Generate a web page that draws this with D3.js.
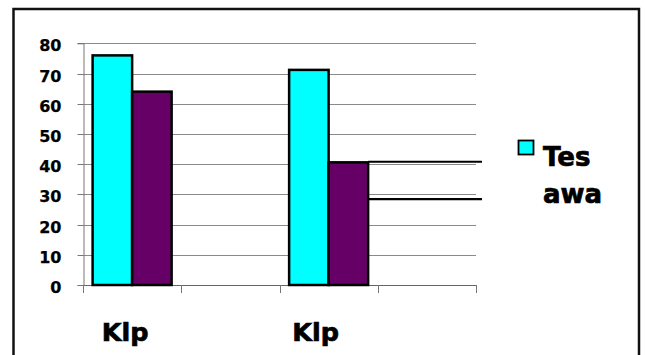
<!DOCTYPE html>
<html><head><meta charset="utf-8">
<script src="https://cdn.jsdelivr.net/npm/d3@7"></script>
<style>html,body{margin:0;padding:0;background:#fff;}svg{display:block;}</style>
</head><body>
<script>
// ---- data ----
const categories = ["Klp", "", "Klp", ""];
const seriesNames = ["Tes awa", ""];
const series1 = [76, null, 71.2, null];
const series2 = [64, null, 40.6, null];
const yTicks = [0, 10, 20, 30, 40, 50, 60, 70, 80];
const extraLineValues = [40.8, 28.4];

// ---- layout ----
const W = 645, H = 355;
const font = "'DejaVu Sans', Verdana, sans-serif";
const svg = d3.select("body").append("svg").attr("width", W).attr("height", H);

svg.append("rect").attr("x", 0).attr("y", 0).attr("width", W).attr("height", H).attr("fill", "#fff");
// outer frame
svg.append("rect").attr("x", 13.5).attr("y", 9).attr("width", 625.5).attr("height", 360)
  .attr("fill", "none").attr("stroke", "#111").attr("stroke-width", 2.5);

const x = d3.scaleBand().domain(d3.range(categories.length)).range([83, 476]).paddingInner(0).paddingOuter(0);
const y = d3.scaleLinear().domain([0, 80]).range([285, 43.3]);

// gridlines
svg.append("g").selectAll("line").data(yTicks.filter(d => d > 0)).join("line")
  .attr("x1", 83).attr("x2", 476)
  .attr("y1", d => Math.round(y(d)) + 0.5).attr("y2", d => Math.round(y(d)) + 0.5)
  .attr("stroke", "#8a8a8a").attr("stroke-width", 1);

// y axis
const yAxis = d3.axisLeft(y).tickValues(yTicks).tickSize(6).tickPadding(16).tickFormat(d3.format("d"));
const gy = svg.append("g").attr("transform", "translate(83.5,0)").call(yAxis);
gy.select(".domain").attr("stroke", "#777");
gy.selectAll(".tick line").attr("stroke", "#777");
gy.selectAll(".tick").attr("transform", d => `translate(0,${Math.round(y(d)) + 0.5})`);
gy.selectAll(".tick text").attr("font-family", font).attr("font-weight", "bold")
  .attr("font-size", 16).attr("fill", "#000").attr("stroke", "#000").attr("stroke-width", 0.25)
  .attr("dy", "0.46em");

// x axis baseline and ticks
const bounds = d3.range(categories.length + 1).map(i => i < categories.length ? x(i) : x.range()[1]);
svg.append("line").attr("x1", 83).attr("x2", 476).attr("y1", 285.5).attr("y2", 285.5)
  .attr("stroke", "#666").attr("stroke-width", 1);
svg.append("g").selectAll("line").data(bounds).join("line")
  .attr("x1", d => Math.round(d) + 0.5).attr("x2", d => Math.round(d) + 0.5)
  .attr("y1", 285).attr("y2", 293).attr("stroke", "#777");

// bars
const barW = 39.5;
const groups = categories.map((c, i) => ({i, v1: series1[i], v2: series2[i]})).filter(d => d.v1 != null);
const bg = svg.append("g");
bg.selectAll("rect.s1").data(groups).join("rect").attr("class", "s1")
  .attr("x", d => x(d.i) + x.bandwidth() / 2 - barW).attr("width", barW)
  .attr("y", d => y(d.v1)).attr("height", d => y(0) - y(d.v1))
  .attr("fill", "#00FFFF").attr("stroke", "#000").attr("stroke-width", 2.5);
bg.selectAll("rect.s2").data(groups).join("rect").attr("class", "s2")
  .attr("x", d => x(d.i) + x.bandwidth() / 2).attr("width", barW)
  .attr("y", d => y(d.v2)).attr("height", d => y(0) - y(d.v2))
  .attr("fill", "#660066").attr("stroke", "#000").attr("stroke-width", 2.5);

// extra black lines
const lastGroup = groups[groups.length - 1];
svg.append("g").selectAll("line").data(extraLineValues).join("line")
  .attr("x1", x(lastGroup.i) + x.bandwidth() / 2 + barW).attr("x2", 482)
  .attr("y1", d => y(d)).attr("y2", d => y(d))
  .attr("stroke", "#000").attr("stroke-width", 2.2);

// category labels
const labelDx = [-7, 0, -13, 0];
svg.append("g").selectAll("text").data(categories.map((c, i) => ({c, i})).filter(d => d.c)).join("text")
  .attr("x", d => x(d.i) + x.bandwidth() / 2 + labelDx[d.i]).attr("y", 341)
  .attr("text-anchor", "middle").attr("font-family", font).attr("font-weight", "bold")
  .attr("font-size", 25.5).attr("fill", "#000").attr("stroke", "#000").attr("stroke-width", 0.7)
  .text(d => d.c);

// legend
const lg = svg.append("g");
lg.append("rect").attr("x", 518.5).attr("y", 140.5).attr("width", 15).attr("height", 14)
  .attr("fill", "#00FFFF").attr("stroke", "#000").attr("stroke-width", 1.8);
const words = seriesNames[0].split(" ");
lg.selectAll("text").data(words).join("text")
  .attr("x", 543).attr("y", (d, i) => 166 + i * 37)
  .attr("font-family", font).attr("font-weight", "bold").attr("font-size", 26)
  .attr("fill", "#000").attr("stroke", "#000").attr("stroke-width", 0.7)
  .text(d => d);
</script>
</body></html>
